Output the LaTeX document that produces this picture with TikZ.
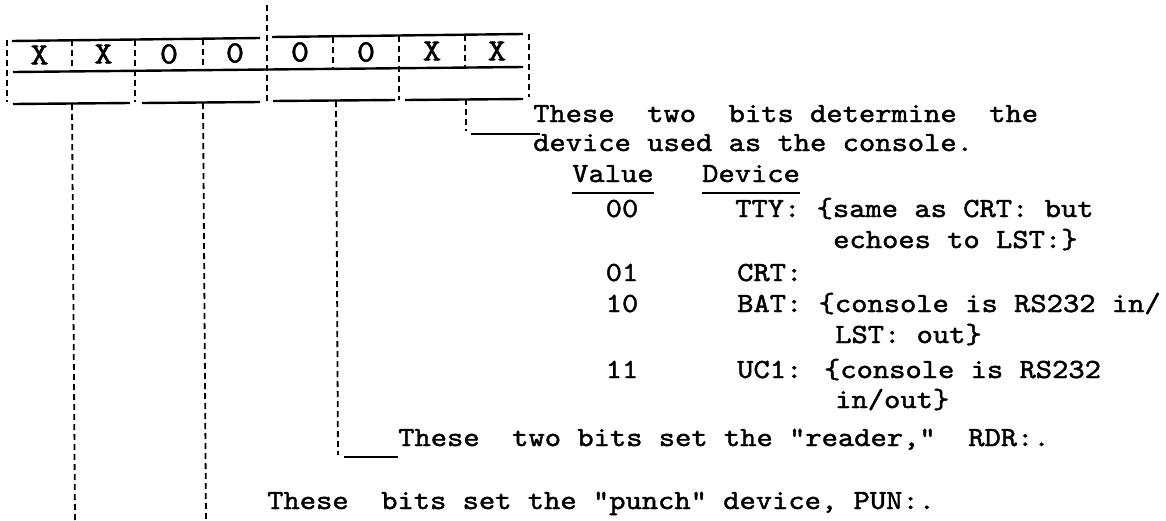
\documentclass[tikz,border=0pt]{standalone}
\usepackage{fontspec}
\newfontfamily\tw{lmmono10-regular.otf}[FakeStretch=1.12, FakeBold=1.6]
\begin{document}
\begin{tikzpicture}[x=1pt,y=-1pt,
  tw/.style={font=\tw\fontsize{27.7pt}{30pt}\selectfont, inner sep=0pt, anchor=base west},
  twc/.style={tw, anchor=base},
  bit/.style={font=\tw\fontsize{31pt}{32pt}\selectfont, inner sep=0pt, anchor=center},
  dsh/.style={line width=1.8pt, dash pattern=on 6pt off 4pt},
  sld/.style={line width=2.4pt}]
\useasboundingbox (0,0) rectangle (1166,520);

% ---- register outline ----
\draw[sld] (12,41) -- (260,38);
\draw[sld] (272,37) -- (523,34);
\draw[sld] (13,72) -- (523,67);
\draw[sld] (13,104) -- (130,103);
\draw[sld] (142,103) -- (260,102);
\draw[sld] (273,101) -- (395,100);
\draw[sld] (405,100) -- (523,99);
\foreach \x/\a/\b in {7/40/102, 72/40/71, 135/40/102, 203/39/70, 267/5/101, 333/37/68, 399/36/100, 465/35/68, 529/34/97}
  \draw[dsh] (\x,\a) -- (\x,\b);

% ---- bits ----
\node[bit] (b1) at (39.5,55) {X};
\node[bit] (b2) at (103.5,54) {X};
\node[bit] (b3) at (169,54) {0};
\node[bit] (b4) at (235,53) {0};
\node[bit] (b5) at (300,52) {0};
\node[bit] (b6) at (366,52) {0};
\node[bit] (b7) at (432,51) {X};
\node[bit] (b8) at (497,51) {X};

% ---- group tap points ----
\coordinate (g1) at (72,104);
\coordinate (g2) at (203,103);
\coordinate (g3) at (336,101);
\coordinate (g4) at (466,99);
\coordinate (e1) at (75,520);
\coordinate (e2) at (206,520);
\coordinate (k3) at (338,455);
\coordinate (h3) at (344,457);
\coordinate (k4) at (466,131);
\coordinate (h4) at (471,134);
\coordinate (h4e) at (540,134);

% ---- texts ----
\node[tw] (t1) at (533,122) {These~~two~~bits determine~~the};
\node[tw] (t2) at (533,151) {device used as the console.};
\node[tw] (hv) at (572,182) {Value};
\node[tw] (hd) at (702,182) {Device};
\draw[sld] ([yshift=-11pt]hv.base west) -- ([yshift=-11pt]hv.base east);
\draw[sld] ([yshift=-11pt]hd.base west) -- ([yshift=-11pt]hd.base east);
\node[twc] (v0) at (622,217) {00};
\node[tw] (d0) at (735,217) {TTY: \{same as CRT: but};
\node[tw] (d0b) at (833,248) {echoes to LST:\}};
\node[twc] (v1) at (622,281) {01};
\node[tw] (d1) at (737,281) {CRT:};
\node[twc] (v2) at (622,312) {10};
\node[tw] (d2) at (737,312) {BAT: \{console is RS232 in/};
\node[tw] (d2b) at (835,343) {LST: out\}};
\node[twc] (v3) at (622,378) {11};
\node[tw] (d3) at (737,378) {UC1: \{console is RS232};
\node[tw] (d3b) at (835,408) {in/out\}};
\node[tw] (rdr) at (398,446) {These~~two bits set the "reader,"~~RDR:.};
\node[tw] (pun) at (267,509) {These~~bits set the "punch" device, PUN:.};

% ---- connectors ----
\draw[dsh] (g1) -- (e1);
\draw[dsh] (g2) -- (e2);
\draw[dsh] (g3) -- (k3);
\draw[sld] (h3) -- (h3 -| rdr.west);
\draw[dsh] (g4) -- (k4);
\draw[sld] (h4) -- (h4e);
\end{tikzpicture}
\end{document}
